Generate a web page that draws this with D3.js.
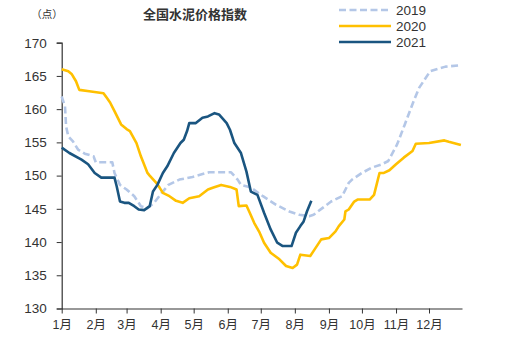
<!DOCTYPE html>
<html>
<head>
<meta charset="utf-8">
<script src="https://cdn.jsdelivr.net/npm/d3@7"></script>
<style>
  html, body { margin: 0; padding: 0; background: #fff; }
  svg { display: block; }
  text { font-family: "Liberation Sans", Arial, sans-serif; fill: #333; }
  .cjk { font-family: "Noto Sans CJK SC", sans-serif; }
</style>
</head>
<body>
<svg id="chart" width="508" height="338"></svg>
<script>
// National cement price index, weekly readings (month-day, index points)
const dates2019 = ["01-01","01-04","01-05","01-07","01-11","01-16","01-22","01-30","02-01","02-16","02-18","02-23","03-01","03-08","03-14","03-20","03-26","04-02","04-08","04-18","04-30","05-15","06-04","06-10","06-13","06-22","07-03","07-15","07-27","08-05","08-14","08-18","08-26","09-03","09-13","09-19","09-22","10-01","10-10","10-19","10-25","11-02","11-09","11-17","11-22","12-02","12-16","12-30"];
const values2019 = [161.9,160.4,157.4,155.9,155.2,153.9,153.3,152.9,152.0,152.0,150.4,148.6,147.9,146.9,145.4,145.1,145.9,147.4,148.6,149.4,149.8,150.5,150.5,149.4,148.6,148.2,146.9,145.6,144.6,144.1,143.9,144.1,145.1,146.1,146.9,148.9,149.4,150.4,151.2,151.7,152.2,154.7,157.7,161.2,163.2,165.7,166.4,166.6];

const dates2020 = ["01-01","01-07","01-10","01-14","01-17","01-26","02-08","02-11","02-14","02-18","02-24","03-01","03-04","03-10","03-14","03-20","03-22","03-28","03-31","04-03","04-09","04-15","04-21","04-27","05-06","05-14","05-19","05-26","06-03","06-09","06-11","06-18","06-21","06-25","06-30","07-04","07-10","07-18","07-24","07-30","08-03","08-06","08-15","08-19","08-25","09-01","09-07","09-10","09-15","09-16","09-19","09-24","09-27","10-08","10-12","10-17","10-21","10-26","11-01","11-08","11-16","11-19","12-01","12-15","12-19","12-30"];
const values2020 = [166.0,165.7,165.3,164.2,162.9,162.7,162.4,161.7,161.0,159.7,157.7,157.0,156.7,154.9,152.9,150.4,150.0,148.9,148.2,147.4,146.9,146.2,145.9,146.6,146.9,147.9,148.2,148.6,148.3,147.9,145.4,145.5,144.4,142.9,141.4,139.9,138.4,137.4,136.4,136.1,136.6,138.1,137.9,138.9,140.4,140.6,141.6,142.4,143.4,144.6,144.9,146.1,146.4,146.4,147.1,150.4,150.4,150.8,151.7,152.7,153.7,154.8,154.9,155.3,155.1,154.6];

const dates2021 = ["01-01","01-08","01-19","01-25","01-31","02-06","02-18","02-20","02-23","02-27","03-03","03-08","03-12","03-17","03-22","03-25","03-29","04-03","04-07","04-13","04-19","04-22","04-25","04-27","05-03","05-09","05-14","05-20","05-24","05-31","06-03","06-07","06-13","06-18","06-22","06-28","07-04","07-10","07-16","07-21","07-29","08-02","08-06","08-09","08-12","08-16"];
const values2021 = [154.2,153.4,152.4,151.7,150.4,149.7,149.7,148.4,146.1,145.9,145.9,145.4,144.9,144.8,145.4,147.6,148.6,150.4,151.4,153.4,154.9,155.4,156.7,157.9,157.9,158.7,158.9,159.4,159.2,157.9,156.9,154.9,153.4,150.6,147.6,147.1,144.4,141.9,139.9,139.4,139.4,141.4,142.4,143.1,144.6,146.2];

const seriesNames = ["2019", "2020", "2021"];
const monthLabels = ["1月","2月","3月","4月","5月","6月","7月","8月","9月","10月","11月","12月"];
const yTicks = [130, 135, 140, 145, 150, 155, 160, 165, 170];

const parse = d3.timeParse("%m-%d");
const toPoints = (ds, vs) => ds.map((d, i) => ({ date: parse(d), value: vs[i] }));

const series = [
  { name: seriesNames[0], points: toPoints(dates2019, values2019), color: "#b4c7e7", dash: "7,3.5" },
  { name: seriesNames[1], points: toPoints(dates2020, values2020), color: "#ffc000", dash: null },
  { name: seriesNames[2], points: toPoints(dates2021, values2021), color: "#1a5580", dash: null }
];

const svg = d3.select("#chart");

const x = d3.scaleTime()
  .domain([parse("01-01"), parse("12-31")])
  .range([61.7, 462]);
const y = d3.scaleLinear().domain([130, 170]).range([308.5, 42.7]);

// Y axis
const yAxis = d3.axisLeft(y).tickValues(yTicks).tickSize(5).tickPadding(10);
const gy = svg.append("g").attr("transform", `translate(${x.range()[0]},0)`).call(yAxis);
gy.select(".domain").attr("stroke", "#333").attr("stroke-width", 1.2);
gy.selectAll(".tick line").attr("stroke", "#333");
gy.selectAll(".tick text")
  .style("font-size", "13.5px")
  .style("font-family", "'Liberation Sans', Arial, sans-serif")
  .attr("fill", "#333");

// X axis: one tick at the start of each month
const monthStarts = monthLabels.map((_, i) => new Date(1900, i, 1));
const xAxis = d3.axisBottom(x)
  .tickValues(monthStarts)
  .tickFormat((d, i) => monthLabels[i])
  .tickSize(5)
  .tickPadding(7)
  .tickSizeOuter(0);
const gx = svg.append("g").attr("transform", `translate(0,${y.range()[0]})`).call(xAxis);
gx.select(".domain").attr("stroke", "#333").attr("stroke-width", 1.2);
gx.selectAll(".tick line").attr("stroke", "#333");
gx.selectAll(".tick text")
  .style("font-size", "12.5px")
  .style("font-family", "'Liberation Sans', 'Noto Sans CJK SC', sans-serif")
  .attr("fill", "#333");

// Lines
const line = d3.line().x(d => x(d.date)).y(d => y(d.value));
svg.append("g").selectAll("path")
  .data(series)
  .join("path")
  .attr("d", d => line(d.points))
  .attr("fill", "none")
  .attr("stroke", d => d.color)
  .attr("stroke-width", 2.6)
  .attr("stroke-linejoin", "round")
  .attr("stroke-dasharray", d => d.dash);

// Title and unit
svg.append("text")
  .attr("class", "cjk")
  .attr("x", 195).attr("y", 19)
  .attr("text-anchor", "middle")
  .style("font-size", "13px")
  .style("font-weight", "bold")
  .text("全国水泥价格指数");
svg.append("text")
  .attr("class", "cjk")
  .attr("x", 47).attr("y", 18)
  .attr("text-anchor", "middle")
  .style("font-size", "10.5px")
  .text("（点）");

// Legend
const legend = svg.append("g").selectAll("g")
  .data(series)
  .join("g")
  .attr("transform", (d, i) => `translate(339,${10 + i * 16})`);
legend.append("line")
  .attr("x1", 0).attr("x2", 52)
  .attr("stroke", d => d.color)
  .attr("stroke-width", 2.6)
  .attr("stroke-dasharray", d => d.dash);
legend.append("text")
  .attr("x", 57).attr("y", 5)
  .style("font-size", "13.5px")
  .text(d => d.name);
</script>
</body>
</html>
